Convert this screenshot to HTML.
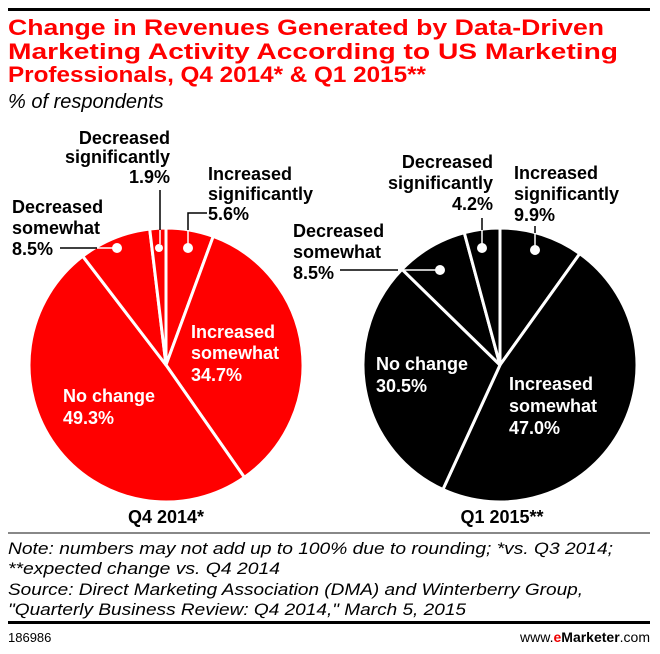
<!DOCTYPE html>
<html><head><meta charset="utf-8"><style>
html,body{margin:0;padding:0;background:#fff;}
svg{display:block;font-family:"Liberation Sans",Arial,sans-serif;}
.lb{font-weight:bold;font-size:18px;fill:#000;}
.wl{font-weight:bold;font-size:18px;fill:#fff;}
.note{font-style:italic;font-size:16.5px;fill:#000;}
</style></head><body>
<svg id="chart" width="660" height="654" viewBox="0 0 660 654" xmlns="http://www.w3.org/2000/svg">
<rect x="8" y="8" width="642" height="3" fill="#000"/>
<g fill="#ff0000" font-weight="bold" font-size="22">
<text x="8" y="35" textLength="596" lengthAdjust="spacingAndGlyphs">Change in Revenues Generated by Data-Driven</text>
<text x="8" y="59" textLength="610" lengthAdjust="spacingAndGlyphs">Marketing Activity According to US Marketing</text>
<text x="8" y="82" textLength="418" lengthAdjust="spacingAndGlyphs">Professionals, Q4 2014* &amp; Q1 2015**</text>
</g>
<text x="8" y="108" font-style="italic" font-size="20">% of respondents</text>
<g id="pies"></g>
<g stroke-width="1.5">
<line x1="60" y1="248" x2="97" y2="248" stroke="#000"/><line x1="97" y1="248" x2="113" y2="248" stroke="#fff"/>
<line x1="160" y1="190" x2="160" y2="230" stroke="#000"/><line x1="160" y1="230" x2="160" y2="244" stroke="#fff"/>
<polyline points="207,213 188,213 188,230" fill="none" stroke="#000"/><line x1="188" y1="230" x2="188" y2="244" stroke="#fff"/>
<line x1="340" y1="270" x2="398" y2="270" stroke="#000"/><line x1="398" y1="270" x2="436" y2="270" stroke="#fff"/>
<line x1="482" y1="218" x2="482" y2="230" stroke="#000"/><line x1="482" y1="230" x2="482" y2="244" stroke="#fff"/>
<line x1="535" y1="226" x2="535" y2="233" stroke="#000"/><line x1="535" y1="233" x2="535" y2="246" stroke="#fff"/>
<g fill="#fff"><circle cx="117" cy="248" r="5"/><circle cx="159" cy="248" r="4"/><circle cx="188" cy="248" r="5"/><circle cx="440" cy="270" r="5"/><circle cx="482" cy="248" r="5"/><circle cx="535" cy="250" r="5"/></g>
</g>
<g text-anchor="end"><text class="lb" x="170" y="144">Decreased</text><text class="lb" x="170" y="163">significantly</text><text class="lb" x="170" y="183">1.9%</text></g>
<g><text class="lb" x="208" y="180">Increased</text><text class="lb" x="208" y="200">significantly</text><text class="lb" x="208" y="220">5.6%</text></g>
<g><text class="lb" x="12" y="213">Decreased</text><text class="lb" x="12" y="234">somewhat</text><text class="lb" x="12" y="255">8.5%</text></g>
<g><text class="wl" x="191" y="338">Increased</text><text class="wl" x="191" y="359">somewhat</text><text class="wl" x="191" y="381">34.7%</text></g>
<g><text class="wl" x="63" y="402">No change</text><text class="wl" x="63" y="424">49.3%</text></g>
<g text-anchor="end"><text class="lb" x="493" y="168">Decreased</text><text class="lb" x="493" y="189">significantly</text><text class="lb" x="493" y="210">4.2%</text></g>
<g><text class="lb" x="514" y="179">Increased</text><text class="lb" x="514" y="200">significantly</text><text class="lb" x="514" y="221">9.9%</text></g>
<g><text class="lb" x="293" y="237">Decreased</text><text class="lb" x="293" y="258">somewhat</text><text class="lb" x="293" y="279">8.5%</text></g>
<g><text class="wl" x="376" y="370">No change</text><text class="wl" x="376" y="392">30.5%</text></g>
<g><text class="wl" x="509" y="390">Increased</text><text class="wl" x="509" y="412">somewhat</text><text class="wl" x="509" y="434">47.0%</text></g>
<text x="166" y="523" text-anchor="middle" class="lb" font-size="19">Q4 2014*</text>
<text x="502" y="523" text-anchor="middle" class="lb" font-size="19">Q1 2015**</text>
<rect x="8" y="532" width="642" height="2" fill="#888"/>
<g>
<text class="note" x="8" y="554" textLength="605" lengthAdjust="spacingAndGlyphs">Note: numbers may not add up to 100% due to rounding; *vs. Q3 2014;</text>
<text class="note" x="8" y="574" textLength="272" lengthAdjust="spacingAndGlyphs">**expected change vs. Q4 2014</text>
<text class="note" x="8" y="595" textLength="575" lengthAdjust="spacingAndGlyphs">Source: Direct Marketing Association (DMA) and Winterberry Group,</text>
<text class="note" x="8" y="615" textLength="458" lengthAdjust="spacingAndGlyphs">"Quarterly Business Review: Q4 2014," March 5, 2015</text>
</g>
<rect x="8" y="621" width="642" height="3" fill="#000"/>
<text x="8" y="642" font-size="13">186986</text>
<text x="650" y="642" font-size="14" text-anchor="end">www.<tspan fill="#e00" font-weight="bold">e</tspan><tspan font-weight="bold">Marketer</tspan>.com</text>
</svg>
<script>
const categories = ["Increased significantly","Increased somewhat","No change","Decreased somewhat","Decreased significantly"];
const q4Values = [5.6, 34.7, 49.3, 8.5, 1.9];
const q1Values = [9.9, 47.0, 30.5, 8.5, 4.2];
const pieNames = ["q4-2014","q1-2015"];
(function(){
  const NS="http://www.w3.org/2000/svg";
  const g=document.getElementById('pies');
  function pie(vals,cx,cy,r,color,name){
    const total=vals.reduce((a,b)=>a+b,0);
    let a0=0;
    vals.forEach((v,i)=>{
      const a1=a0+v/total*2*Math.PI;
      const x0=cx+r*Math.sin(a0),y0=cy-r*Math.cos(a0);
      const x1=cx+r*Math.sin(a1),y1=cy-r*Math.cos(a1);
      const large=(a1-a0)>Math.PI?1:0;
      const p=document.createElementNS(NS,'path');
      p.setAttribute('d',`M${cx},${cy}L${x0},${y0}A${r},${r} 0 ${large} 1 ${x1},${y1}Z`);
      p.setAttribute('fill',color);
      p.setAttribute('stroke','#fff');
      p.setAttribute('stroke-width','3');
      p.setAttribute('stroke-linejoin','round');
      
      
      g.appendChild(p);
      a0=a1;
    });
  }
  pie(q4Values,166,365,137,'#ff0000',pieNames[0]);
  pie(q1Values,500,365,137,'#000000',pieNames[1]);
})();
</script>
</body></html>
